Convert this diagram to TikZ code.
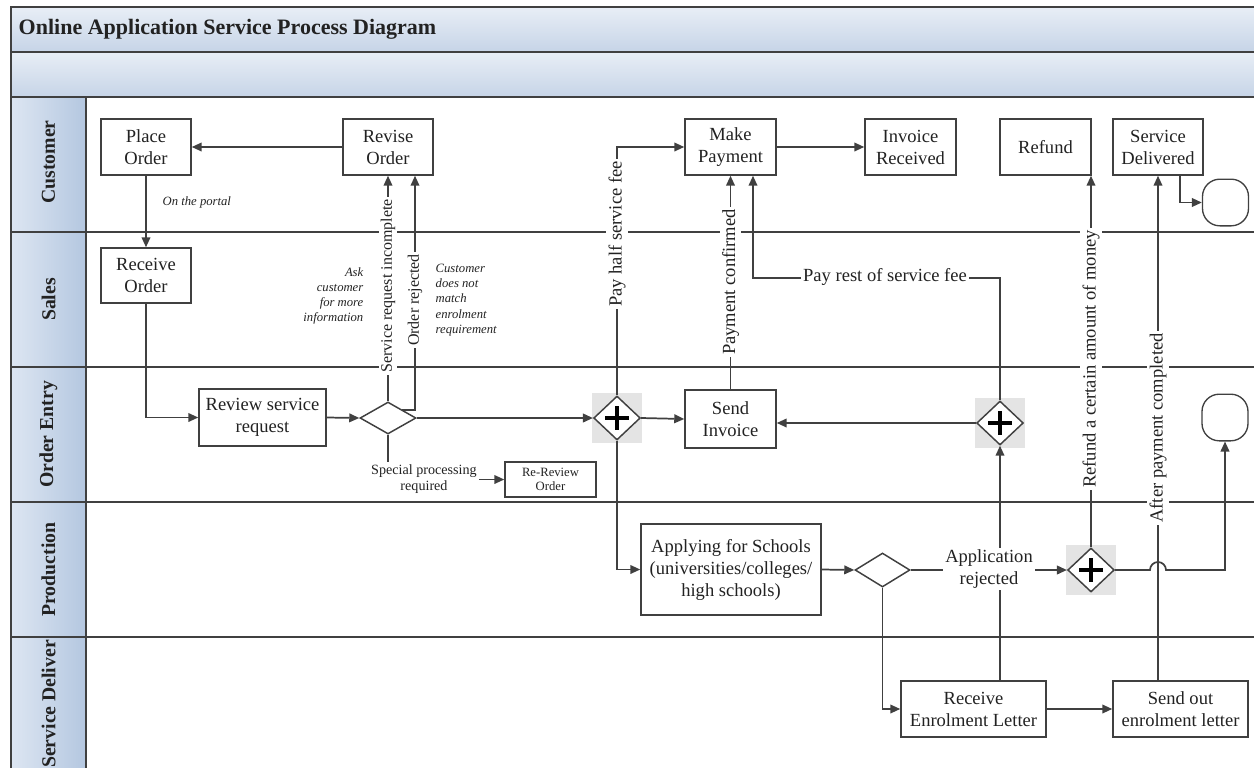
\documentclass[tikz,border=0pt]{standalone}
\usepackage{fontspec}
\setmainfont{Liberation Serif}
\usetikzlibrary{shapes.geometric,arrows.meta,calc}
\definecolor{ln}{HTML}{404040}
\definecolor{txt}{HTML}{222222}
\definecolor{barA}{HTML}{E8EEF6}
\definecolor{barB}{HTML}{C6D4E7}
\definecolor{laneA}{HTML}{DDE6F2}
\definecolor{laneB}{HTML}{B4C7E0}
\definecolor{gwbgc}{HTML}{E4E4E4}
\begin{document}
\begin{tikzpicture}[x=0.75pt,y=-0.75pt,
  every node/.style={text=txt},
  sz/.style 2 args={minimum width=#1*0.75pt, minimum height=#2*0.75pt},
  boxfont/.style={font=\fontsize{13.9}{16.5}\selectfont},
  task/.style={draw=ln, line width=1.1pt, fill=white, align=center, inner sep=0pt, boxfont},
  dec/.style={shape=diamond, draw=ln, line width=1.1pt, fill=white, inner sep=0pt},
  gwbg/.style={fill=gwbgc, minimum width=38pt, minimum height=37pt, inner sep=0pt},
  gw/.style={shape=diamond, draw=ln, line width=1.1pt, fill=white, inner sep=0pt,
     minimum width=35pt, minimum height=33pt,
     path picture={\draw[line width=2.6pt, black]
       ($(path picture bounding box.center)+(-12,0)$) -- ($(path picture bounding box.center)+(12,0)$)
       ($(path picture bounding box.center)+(0,-12)$) -- ($(path picture bounding box.center)+(0,12)$);}},
  endev/.style={draw=ln, line width=1pt, fill=white, rounded corners=13pt, minimum width=34.5pt, minimum height=35pt, inner sep=0pt},
  frame/.style={draw=ln, line width=1.5pt},
  conn/.style={draw=ln, line width=1.3pt},
  arr/.style={conn, -{Triangle[length=7.5pt,width=6.5pt]}},
  lbl/.style={fill=white, inner sep=1.5pt, boxfont},
  lblsm/.style={fill=white, inner sep=1.5pt, font=\fontsize{12}{14}\selectfont},
  note/.style={font=\fontsize{9.5}{11.4}\selectfont\itshape},
  lanelbl/.style={font=\fontsize{14.8}{17}\selectfont\bfseries, rotate=90}
]
\useasboundingbox (0,0) rectangle (1254,768);
\clip (0,0) rectangle (1254,768);

% header bars
\fill[top color=barA, bottom color=barB] (11,7) rectangle (1262,52);
\fill[top color=barA, bottom color=barB] (11,52) rectangle (1262,97);
% lane label column
\foreach \ya/\yb in {97/232,232/367,367/502,502/637,637/775}
  \fill[left color=laneA, right color=laneB] (11,\ya) rectangle (86,\yb);
\draw[frame] (1262,7) -- (11,7) -- (11,775);
\foreach \yy in {52,97,232,367,502,637}
  \draw[frame] (11,\yy) -- (1262,\yy);
\draw[frame] (86,97) -- (86,775);

\node[anchor=west, font=\fontsize{16.5}{20}\selectfont\bfseries] (title) at (14,29) {Online Application Service Process Diagram};
\node[lanelbl] (lcust) at (48.5,162) {Customer};
\node[lanelbl] (lsales) at (48.5,299.5) {Sales};
\node[lanelbl] (lorder) at (48.5,434.5) {Order Entry};
\node[lanelbl] (lprod) at (48.5,569.5) {Production};
\node[lanelbl] (lserv) at (48.5,704) {Service Deliver};

% tasks
\node[task, sz={90}{56}] (place) at (146,147) {Place\\Order};
\node[task, sz={90}{56}] (revise) at (388,147) {Revise\\Order};
\node[task, sz={91}{56}] (pay) at (730.5,147) {Make\\Payment};
\node[task, sz={91}{56}] (inv) at (910.5,147) {Invoice\\Received};
\node[task, sz={91}{56}] (refund) at (1045.5,147) {Refund};
\node[task, sz={90}{56}] (svc) at (1158,147) {Service\\Delivered};
\node[endev] (end1) at (1225.5,202.5) {};
\node[task, sz={90}{55}] (rcvord) at (146,275.5) {Receive\\Order};
\node[task, sz={127}{57}] (review) at (262.5,417.5) {Review service\\request};
\node[dec, sz={56}{32}] (d1) at (388,418) {};
\node[task, sz={91}{35}, font=\fontsize{9.5}{11}\selectfont] (rerev) at (550.5,479.5) {Re-Review\\Order};
\node[gwbg] (gw1bg) at (617,418) {};
\node[gw] (gw1) at (gw1bg) {};
\node[task, sz={91}{58}] (sendinv) at (730.5,419) {Send\\Invoice};
\node[gwbg] (gw2bg) at (1000,423) {};
\node[gw] (gw2) at (gw2bg) {};
\node[endev] (end2) at (1225,417.5) {};
\node[task, sz={180}{91}] (apply) at (731,569.5) {Applying for Schools\\(universities/colleges/\\high schools)};
\node[dec, sz={55}{34}] (d2) at (882.5,570) {};
\node[gwbg] (gw3bg) at (1091,570) {};
\node[gw] (gw3) at (gw3bg) {};
\node[task, sz={145}{56}] (receive) at (973.5,709) {Receive\\Enrolment Letter};
\node[task, sz={135}{56}] (sendout) at (1180.5,709) {Send out\\enrolment letter};

% connectors
\draw[arr] (revise.west) -- (place.east);
\draw[arr] (place.south) -- (rcvord.north);
\draw[arr] (rcvord.south) |- (review.west);
\draw[arr] (review.east) -- (d1.west);
\draw[arr] (d1.north) -- (revise.south);
\draw[arr] (d1.north east) -| ($(revise.south)+(27,0)$);
\draw[arr] (d1.south) |- (rerev.west);
\draw[arr] (d1.east) -- (gw1.west);
\draw[arr] (gw1.north) |- (pay.west);
\draw[arr] (gw1.east) -- (sendinv.west);
\draw[arr] (gw1.south) |- (apply.west);
\draw[arr] (sendinv.north) -- (pay.south);
\draw[arr] (gw2.north) |- ($(pay.south)+(22.5,102)$) -- ($(pay.south)+(22.5,0)$);
\draw[arr] (pay.east) -- (inv.west);
\draw[arr] (gw2.west) -- (gw2.west -| sendinv.east);
\draw[arr] (apply.east) -- (d2.west);
\draw[arr] (d2.east) -- (gw3.west);
\draw[arr] (d2.south) |- (receive.west);
\draw[arr] (gw2.south |- receive.north) -- (gw2.south);
\draw[arr] (gw3.north) -- (gw3.north |- refund.south);
\draw[arr] (svc.south |- sendout.north) -- (svc.south);
\draw[arr] (receive.east) -- (sendout.west);
\draw[arr] (gw3.east) -- ($(svc.south |- gw3.east)+(-8,0)$) arc (180:360:8) -| (end2.south);
\draw[arr] ($(svc.south)+(22,0)$) |- (end1.west);

% labels
\node[lblsm, rotate=90] (l1) at (388,286) {Service request incomplete};
\node[lblsm, rotate=90] (l2) at (415,300) {Order rejected};
\node[lbl, rotate=90] (l3) at (617,234) {Pay half service fee};
\node[lbl, rotate=90] (l4) at (730.5,282) {Payment confirmed};
\node[lbl] (l5) at (885,277) {Pay rest of service fee};
\node[lbl, rotate=90] (l6) at (1091,359) {Refund a certain amount of money};
\node[lbl, rotate=90] (l7) at (1158,428) {After payment completed};
\node[lbl, align=center] (l8) at (989,569) {Application\\rejected};
\node[fill=white, inner sep=1.5pt, align=center, font=\fontsize{10.6}{12.6}\selectfont] (l9) at (424,479) {Special processing\\required};

% notes
\node[note, anchor=west] (n1) at (158,202) {On the portal};
\node[note, anchor=east, align=right] (n2) at (368,296) {Ask\\customer\\for more\\information};
\node[note, anchor=west, align=left] (n3) at (431,300) {Customer\\does not\\match\\enrolment\\requirement};
\end{tikzpicture}
\end{document}
